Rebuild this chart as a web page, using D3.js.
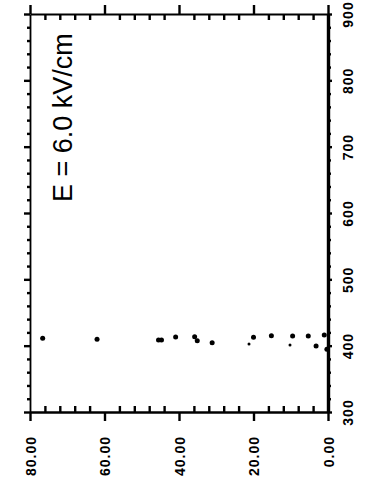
<!DOCTYPE html>
<html>
<head>
<meta charset="utf-8">
<script src="https://cdn.jsdelivr.net/npm/d3@7"></script>
<style>
  html, body { margin: 0; padding: 0; background: #fff; }
  svg { display: block; }
  .lbl { font-family: "Liberation Sans", Arial, sans-serif; font-weight: bold; font-size: 14px; letter-spacing: 1px; fill: #000; }
  .ax path.domain { stroke: #000; }
  .ax .tick line { stroke: #000; stroke-width: 2.4px; }
</style>
</head>
<body>
<svg id="chart"></svg>
<script>
// the figure is printed turned a quarter to the left:
// field values run right -> left along the bottom, wavelength runs bottom -> top on the right
const fieldTicks = [0, 20, 40, 60, 80]
const waveTicks = [300, 400, 500, 600, 700, 800, 900]
const annotation = 'E = 6.0 kV/cm'

// main dots
const ptWave = [411, 409.6, 408.5, 408.5, 413, 413.5, 407.5, 404.5, 412.6, 415, 414.6, 414.6, 399.5, 416, 394.5]
const ptValue = [76.6, 62.0, 45.5, 44.7, 40.9, 35.8, 35.1, 31.1, 20.0, 15.2, 9.5, 5.3, 3.2, 1.0, 0.3]
// faint small dots
const faintWave = [402.5, 401]
const faintValue = [21.2, 10.2]

const W = 366, H = 484
const mLeft = 30, mRight = 328, mTop = 14, mBottom = 412

const svg = d3.select('#chart').attr('width', W).attr('height', H)

const v = d3.scaleLinear().domain([0, 80]).range([mRight, mLeft])
const w = d3.scaleLinear().domain([300, 900]).range([mBottom, mTop])

const minorV = d3.range(0, 81, 4).filter(d => d % 20 !== 0)
const minorW = d3.range(300, 901, 20).filter(d => d % 100 !== 0)

function addAxis(axis, tx, ty, domainWidth) {
  const g = svg.append('g')
    .attr('class', 'ax')
    .attr('transform', `translate(${tx},${ty})`)
    .call(axis)
  g.select('.domain').style('stroke-width', domainWidth + 'px')
  return g
}

// minor ticks first (no domain line of their own)
addAxis(d3.axisBottom(v).tickValues(minorV).tickSize(-6).tickSizeOuter(0).tickFormat(''), 0, mBottom, 0)
addAxis(d3.axisTop(v).tickValues(minorV).tickSize(-6).tickSizeOuter(0).tickFormat(''), 0, mTop, 0)
addAxis(d3.axisLeft(w).tickValues(minorW).tickSize(3).tickSizeOuter(0).tickFormat(''), mLeft, 0, 0)
addAxis(d3.axisRight(w).tickValues(minorW).tickSize(3).tickSizeOuter(0).tickFormat(''), mRight, 0, 0)

// major ticks + frame
addAxis(d3.axisTop(v).tickValues(fieldTicks).tickSize(9).tickSizeOuter(0).tickFormat(''), 0, mTop, 2)
addAxis(d3.axisLeft(w).tickValues(waveTicks).tickSize(6).tickSizeOuter(0).tickFormat(''), mLeft, 0, 1.8)

const bAx = addAxis(d3.axisBottom(v).tickValues(fieldTicks).tickSize(9).tickSizeOuter(0)
  .tickFormat(d3.format('.2f')), 0, mBottom, 2.6)
bAx.attr('font-size', null).attr('font-family', null)
bAx.selectAll('text')
  .attr('class', 'lbl')
  .attr('transform', 'rotate(-90)')
  .attr('x', -24).attr('y', 0).attr('dy', '0.36em')
  .attr('text-anchor', 'end')

const rAx = addAxis(d3.axisRight(w).tickValues(waveTicks).tickSize(4).tickSizeOuter(0)
  .tickFormat(d3.format('d')), mRight, 0, 3.4)
rAx.attr('font-size', null).attr('font-family', null)
rAx.selectAll('text')
  .attr('class', 'lbl')
  .attr('transform', 'rotate(-90)')
  .attr('x', 0).attr('y', 20).attr('dy', '0.36em')
  .attr('text-anchor', 'middle')

// dots
svg.append('g').selectAll('circle')
  .data(ptWave.map((d, i) => [d, ptValue[i]]))
  .join('circle')
  .attr('cx', d => v(d[1]))
  .attr('cy', d => w(d[0]))
  .attr('r', 2.5)
  .attr('fill', '#000')

svg.append('g').selectAll('circle')
  .data(faintWave.map((d, i) => [d, faintValue[i]]))
  .join('circle')
  .attr('cx', d => v(d[1]))
  .attr('cy', d => w(d[0]))
  .attr('r', 1.5)
  .attr('fill', '#000')

// annotation
svg.append('text')
  .attr('transform', 'translate(72,202) rotate(-90)')
  .attr('font-family', '"Liberation Sans", Arial, sans-serif')
  .attr('font-size', 27)
  .attr('fill', '#000')
  .text(annotation)
</script>
</body>
</html>
